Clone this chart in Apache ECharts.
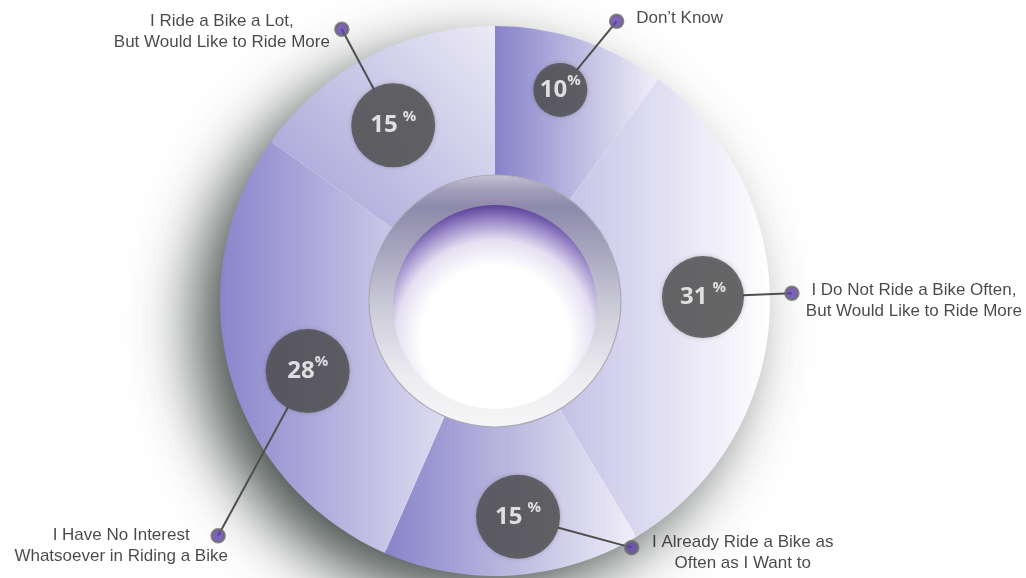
<!DOCTYPE html>
<html>
<head>
<meta charset="utf-8">
<script src="https://cdn.jsdelivr.net/npm/echarts@6/dist/echarts.min.js"></script>
<style>
html,body{margin:0;padding:0;background:#fff;}
#chart{width:1026px;height:578px;}
</style>
</head>
<body>
<div id="chart"></div>
<script>
// ---------------- DATA ----------------
const categories = [
  "Don’t Know",
  "I Do Not Ride a Bike Often,\nBut Would Like to Ride More",
  "I Already Ride a Bike as\nOften as I Want to",
  "I Have No Interest\nWhatsoever in Riding a Bike",
  "I Ride a Bike a Lot,\nBut Would Like to Ride More"
];
const values = [10, 31, 15, 28, 15];

// ---------------- LAYOUT / STYLE (not data) ----------------
const CENTER = [495, 301];
const R_IN = 126, R_OUT = 275;
// callout bubble: [radius px, angle deg clockwise from top]
const bubbleAt = [[221, 17.2], [208, 88.9], [217, 173.9], [200, 249.5], [203, 329.9]];
const bubbleR = [27, 41, 42, 42, 42];
const pctGap = [0, 5, 5, 0, 5];
// callout dot: [radius px, angle deg]
const dotAt = [[305, 23.5], [297, 88.5], [282, 151.0], [363, 229.7], [312, 330.6]];
// text offset from dot
const textOffset = [[63, -3], [122, 8], [111, 5.5], [-97, 10], [-120, 2.5]];
// segment gradients [start, end, direction]
const segGrad = [
  ['#8782c9', '#f1f0f8', [0, 0, 1, 0]],
  ['#c4c1e6', '#ffffff', [0, 0, 1, 0]],
  ['#8883c9', '#efeef7', [0, 0, 1, 0]],
  ['#8a85cb', '#dedcf0', [0, 0, 1, 0]],
  ['#a19ed6', '#ebeaf5', [0, 1, 1, 0]]
];

function lg(dir, stops) {
  return new echarts.graphic.LinearGradient(dir[0], dir[1], dir[2], dir[3],
    stops.map(s => ({offset: s[0], color: s[1]})));
}
function rg(x, y, r, stops) {
  return new echarts.graphic.RadialGradient(x, y, r,
    stops.map(s => ({offset: s[0], color: s[1]})));
}
// polar helpers (radius px, angle deg clockwise from top) relative to CENTER
function toXY(p) {
  const a = p[1] * Math.PI / 180;
  return [p[0] * Math.sin(a), -p[0] * Math.cos(a)];
}
function toPolar(xy) {
  let a = Math.atan2(xy[0], -xy[1]) * 180 / Math.PI;
  if (a < 0) a += 360;
  return [Math.hypot(xy[0], xy[1]), a];
}
// connector start point = edge of bubble towards the dot
function edgePoint(i) {
  const b = toXY(bubbleAt[i]), d = toXY(dotAt[i]);
  const len = Math.hypot(d[0] - b[0], d[1] - b[1]);
  const k = (bubbleR[i] - 1) / len;
  return toPolar([b[0] + (d[0] - b[0]) * k, b[1] + (d[1] - b[1]) * k]);
}

const chart = echarts.init(document.getElementById('chart'), null, {renderer: 'canvas'});

const series = [];

// shadow ring
series.push({
  type: 'pie', silent: true, z: 1,
  center: CENTER, radius: [R_IN - 4, R_OUT - 3],
  label: {show: false}, labelLine: {show: false},
  itemStyle: {color: '#ffffff', shadowColor: 'rgba(35,45,40,0.85)', shadowBlur: 65, shadowOffsetX: -26, shadowOffsetY: 24},
  data: [{value: 1}]
});

// main ring
series.push({
  type: 'pie', silent: true, z: 2,
  center: CENTER, radius: [R_IN, R_OUT],
  startAngle: 90, clockwise: true,
  label: {show: false}, labelLine: {show: false},
  data: values.map((v, i) => ({
    name: categories[i], value: v,
    itemStyle: {color: lg(segGrad[i][2], [[0, segGrad[i][0]], [1, segGrad[i][1]]])}
  }))
});

// hole rim
series.push({
  type: 'pie', silent: true, z: 2,
  center: CENTER, radius: [0, R_IN],
  label: {show: false}, labelLine: {show: false},
  itemStyle: {
    color: lg([0, 0, 0, 1], [[0, '#c6c4d4'], [0.06, '#a29eba'], [0.13, '#8d89ab'], [0.5, '#c8c7d5'], [0.8, '#ededf0'], [1, '#f6f6f7']]),
    borderColor: '#aaa8b6', borderWidth: 1.2
  },
  data: [{value: 1}]
});
// hole inner disk
series.push({
  type: 'pie', silent: true, z: 2,
  center: [CENTER[0], CENTER[1] + 6], radius: [0, 102],
  label: {show: false}, labelLine: {show: false},
  itemStyle: {
    color: rg(0.5, 0.66, 0.66, [[0, '#ffffff'], [0.55, '#ffffff'], [0.74, '#e4dff1'], [0.88, '#9d8dca'], [1, '#5c429b']])
  },
  data: [{value: 1}]
});

// connector lines
values.forEach((v, i) => {
  series.push({
    type: 'line', coordinateSystem: 'polar', silent: true, z: 3,
    clip: false, symbol: 'none', animation: false,
    lineStyle: {color: '#4f4f4f', width: 2},
    data: [edgePoint(i), dotAt[i]]
  });
});

// bubbles
series.push({
  type: 'scatter', coordinateSystem: 'polar', silent: true, z: 4,
  symbol: 'circle',
  itemStyle: {color: '#4d4d4d', shadowColor: 'rgba(0,0,0,0.25)', shadowBlur: 4},
  data: values.map((v, i) => ({
    value: bubbleAt[i], symbolSize: bubbleR[i] * 2,
    label: {
      show: true, position: 'inside',
      formatter: '{n|' + v + '}{g|}{p|%}',
      rich: {
        n: {fontFamily: 'Open Sans', fontWeight: 'bold', fontSize: 24, color: '#ffffff'},
        g: {width: pctGap[i]},
        p: {fontFamily: 'Open Sans', fontWeight: 'bold', fontSize: 15, color: '#ffffff', padding: [0, 0, 18, 0]}
      }
    }
  }))
});

// dots with text
series.push({
  type: 'scatter', coordinateSystem: 'polar', silent: true, z: 5,
  symbol: 'circle', symbolSize: 13,
  itemStyle: {color: '#5b3fa6', borderColor: '#6c6c6c', borderWidth: 2.5},
  data: values.map((v, i) => ({
    value: dotAt[i],
    label: {
      show: true, position: 'inside', offset: textOffset[i],
      formatter: categories[i],
      fontFamily: 'Liberation Sans, Arial, sans-serif', fontSize: 17, lineHeight: 21,
      color: '#1c1c1c', align: 'center', verticalAlign: 'middle'
    }
  }))
});

chart.setOption({
  animation: false,
  backgroundColor: '#ffffff',
  polar: {center: CENTER, radius: 400},
  angleAxis: {type: 'value', min: 0, max: 360, startAngle: 90, clockwise: true, show: false},
  radiusAxis: {type: 'value', min: 0, max: 400, show: false},
  series: series
});
</script>
</body>
</html>
